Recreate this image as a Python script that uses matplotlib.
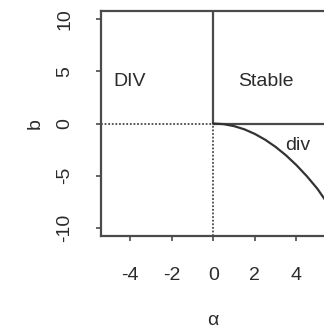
import matplotlib.pyplot as plt

plt.rcParams['font.family'] = ['Liberation Sans', 'DejaVu Sans']

# divergence boundary
alpha_div = [0.0, 0.5, 1.0, 1.5, 2.0, 2.5, 3.0, 3.5, 4.0, 4.5, 5.0, 5.4]
b_div = [0.0, -0.06, -0.25, -0.56, -1.0, -1.56, -2.25, -3.06, -4.0, -5.06, -6.25, -7.4]

x_ticks = [-4, -2, 0, 2, 4]
y_ticks = [-10, -5, 0, 5, 10]
xlim = (-5.4, 5.4)
ylim = (-10.8, 10.8)

region_labels = ["DIV", "Stable", "div"]
region_pos = [(-4.8, 4.0), (1.2, 4.0), (3.45, -2.1)]

line_col = '#4a4a4a'
text_col = '#2b2b2b'
fs = 14

fig = plt.figure(figsize=(3.24, 3.32), dpi=100)
ax = fig.add_axes([0.311, 0.289, 0.694, 0.678])

# solid boundaries
ax.plot([0, 0], [0, ylim[1]], color=line_col, lw=1.6, solid_capstyle='butt')
ax.plot([0, xlim[1]], [0, 0], color=line_col, lw=1.6, solid_capstyle='butt')
# dotted continuations
ax.plot([xlim[0], 0], [0, 0], color=line_col, lw=1.3, ls=(0, (1, 1)))
ax.plot([0, 0], [ylim[0], 0], color=line_col, lw=1.3, ls=(0, (1, 1)))
# div curve
ax.plot(alpha_div, b_div, color='#333333', lw=1.6)

for lab, (x, y) in zip(region_labels, region_pos):
    ax.text(x, y, lab, fontsize=fs, color=text_col, ha='left', va='center')

ax.set_xlim(*xlim)
ax.set_ylim(*ylim)
ax.set_xticks(x_ticks)
ax.set_yticks(y_ticks)
ax.set_xticklabels([str(t) for t in x_ticks])
ax.set_yticklabels([str(t) for t in y_ticks], rotation=90, va='center')
ax.tick_params(direction='out', length=3.6, width=1.2, color=line_col,
               labelsize=fs, labelcolor=text_col)
ax.tick_params(axis='x', pad=19)
ax.tick_params(axis='y', pad=16)
for s in ax.spines.values():
    s.set_color(line_col)
    s.set_linewidth(1.6)

ax.set_xlabel('α', fontsize=fs, color=text_col, labelpad=20)
ax.set_ylabel('b', fontsize=fs, color=text_col, labelpad=9)

fig.savefig('out.png', dpi=100)
